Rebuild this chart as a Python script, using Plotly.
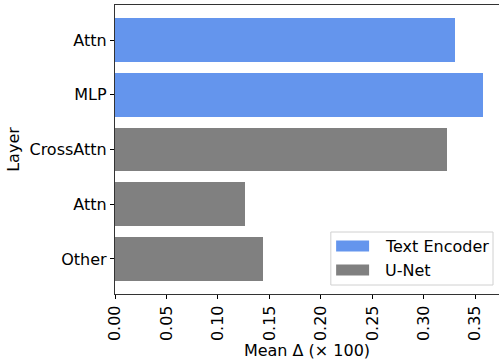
import plotly.graph_objects as go

# Per-layer mean change, grouped by model component (top to bottom)
groups = ["Text Encoder", "U-Net"]
colors = {"Text Encoder": "#6495ED", "U-Net": "#808080"}
layer_labels = ["Attn", "MLP", "CrossAttn", "Attn", "Other"]
layer_groups = ["Text Encoder", "Text Encoder", "U-Net", "U-Net", "U-Net"]
mean_delta = [0.330, 0.358, 0.323, 0.126, 0.144]
x_ticks = [0.00, 0.05, 0.10, 0.15, 0.20, 0.25, 0.30, 0.35]

FONT = "DejaVu Sans"
FS = 16
W, H = 499, 362
ML, MR, MT, MB = 114.7, 0, 5, 68

n = len(layer_labels)
pos = list(range(n))  # row positions, 0 at top

fig = go.Figure()
for g in groups:
    idx = [i for i in range(n) if layer_groups[i] == g]
    fig.add_trace(go.Bar(
        x=[mean_delta[i] for i in idx],
        y=[pos[i] for i in idx],
        orientation="h",
        width=0.8,
        marker=dict(color=colors[g], line=dict(width=0)),
        name=g,
        showlegend=False,
    ))

fig.update_layout(
    width=W, height=H,
    margin=dict(l=ML, r=MR, t=MT, b=MB),
    plot_bgcolor="white", paper_bgcolor="white",
    font=dict(family=FONT, size=FS, color="black"),
    bargap=0,
)
fig.update_xaxes(
    range=[0, 0.3731],
    tickvals=x_ticks,
    ticktext=[f"{v:.2f}" for v in x_ticks],
    tickangle=-90,
    ticks="outside", ticklen=4, tickwidth=1, tickcolor="black",
    showline=True, linecolor="#333", linewidth=1.2, mirror=True,
    showgrid=False, zeroline=False,
    title=dict(text="Mean Δ (× 100)", standoff=4, font=dict(size=FS)),
)
fig.update_yaxes(
    range=[n - 1 + 0.64, -0.64],
    tickvals=pos,
    ticktext=layer_labels,
    ticks="outside", ticklen=4, tickwidth=1, tickcolor="black",
    showline=True, linecolor="#333", linewidth=1.2, mirror=False,
    showgrid=False, zeroline=False,
    title=dict(text="Layer", standoff=5, font=dict(size=FS)),
)

# Legend drawn as a framed box with colour patches
pw, ph = W - ML - MR, H - MT - MB
def px(x):
    return (x - ML) / pw
def py(y):
    return (H - MB - y) / ph

fig.add_shape(type="rect", xref="paper", yref="paper",
              x0=px(330.7), x1=px(493), y0=py(285), y1=py(232),
              line=dict(color="#d0d0d0", width=1), fillcolor="rgba(255,255,255,0.8)",
              layer="above")
for k, g in enumerate(groups):
    cy = 246 + 24 * k
    fig.add_shape(type="rect", xref="paper", yref="paper",
                  x0=px(336), x1=px(369), y0=py(cy + 5.6), y1=py(cy - 5.6),
                  line=dict(width=0), fillcolor=colors[g], layer="above")
    fig.add_annotation(xref="paper", yref="paper", x=px(383), y=py(cy),
                       text=g, showarrow=False, xanchor="left", yanchor="middle",
                       font=dict(family=FONT, size=FS, color="black"))

fig.write_html("out.html")
